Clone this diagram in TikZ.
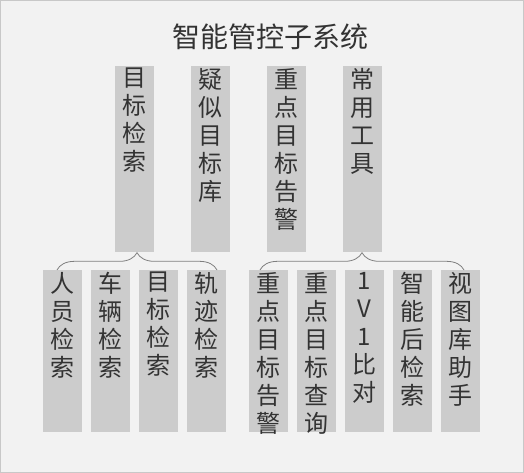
\documentclass[tikz,border=0pt]{standalone}
\usepackage{fontspec}
\newfontfamily\cjk{Noto Sans CJK SC}
\usetikzlibrary{positioning,decorations.pathreplacing}
\definecolor{pagebg}{HTML}{F2F2F2}
\definecolor{boxgray}{HTML}{CCCCCC}
\definecolor{inkgray}{HTML}{333333}
\definecolor{framegray}{HTML}{C8C8C8}
\definecolor{bracegray}{HTML}{7F7F7F}
\begin{document}
\begin{tikzpicture}[x=0.75pt, y=-0.75pt,
        catbox/.style={fill=boxgray, minimum width=29.25pt, minimum height=139.5pt, inner sep=0pt, outer sep=0pt},
        leafbox/.style={fill=boxgray, minimum width=29.25pt, minimum height=121.5pt, inner sep=0pt, outer sep=0pt},
        vtext/.style={anchor=north, yshift=-1.5pt, align=center, text=inkgray, inner sep=0pt, font=\cjk\fontsize{18}{21}\selectfont},
        brace/.style={draw=bracegray, line width=0.6pt, decorate, decoration={brace, amplitude=13pt}}]
        \draw[fill=pagebg, draw=framegray, line width=0.75pt] (0.5,0.5) rectangle (523.5,472.5);
        \node[text=inkgray, font=\cjk\fontsize{21}{25}\selectfont] (title) at (270,37) {智能管控子系统};

        \node[catbox, label={[vtext]north:目\\标\\检\\索}] (search) at (134.5,159) {};
        \node[catbox, right=27.75pt of search, label={[vtext]north:疑\\似\\目\\标\\库}] (suspect) {};
        \node[catbox, right=27.75pt of suspect, label={[vtext]north:重\\点\\目\\标\\告\\警}] (alarm) {};
        \node[catbox, right=27.75pt of alarm, label={[vtext]north:常\\用\\工\\具}] (tools) {};

        \node[leafbox, label={[vtext]north:人\\员\\检\\索}] (person) at (62.5,351) {};
        \node[leafbox, right=6.75pt of person, label={[vtext]north:车\\辆\\检\\索}] (vehicle) {};
        \node[leafbox, right=6.75pt of vehicle, label={[vtext]north:目\\标\\检\\索}] (target) {};
        \node[leafbox, right=6.75pt of target, label={[vtext]north:轨\\迹\\检\\索}] (track) {};
        \node[leafbox, right=17.25pt of track, label={[vtext]north:重\\点\\目\\标\\告\\警}] (keyalarm) {};
        \node[leafbox, right=6.75pt of keyalarm, label={[vtext]north:重\\点\\目\\标\\查\\询}] (keyquery) {};
        \node[leafbox, right=6.75pt of keyquery, label={[vtext]north:1\\V\\1\\比\\对}] (compare) {};
        \node[leafbox, right=6.75pt of compare, label={[vtext]north:智\\能\\后\\检\\索}] (smart) {};
        \node[leafbox, right=6.75pt of smart, label={[vtext]north:视\\图\\库\\助\\手}] (viewlib) {};

        \draw[brace] ([xshift=10.5pt]person.north west) -- ([xshift=-6.75pt]track.north east);
        \draw[brace] ([xshift=8.25pt]keyalarm.north west) -- ([xshift=-12pt]viewlib.north east);
\end{tikzpicture}
\end{document}
